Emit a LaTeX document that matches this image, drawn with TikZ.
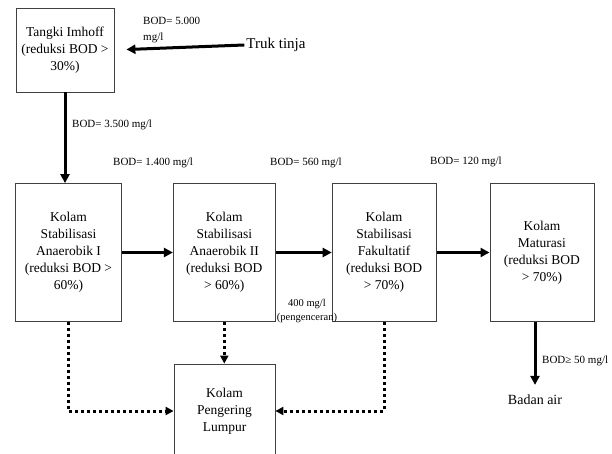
\documentclass[tikz,border=0pt]{standalone}
\usepackage{fontspec}
\setmainfont{Liberation Serif}
\usepackage{xcolor}
\usepackage{tikz}
\usetikzlibrary{arrows.meta, positioning}

\begin{document}
\begin{tikzpicture}[
    x=1pt, y=-1pt,
    pond/.style={rectangle, draw=black!75, line width=0.8pt, align=center, minimum height=138pt, inner sep=2pt, font=\fontsize{13.5}{17}\selectfont},
    bodlabel/.style={inner sep=0pt, align=left, font=\fontsize{11}{16}\selectfont},
    flow/.style={-{Triangle[length=9pt, width=9pt]}, line width=3pt},
    sludge/.style={-{Triangle[length=8pt, width=8pt]}, line width=3pt, dash pattern=on 3pt off 3pt}
]
\useasboundingbox (0,0) rectangle (612,454);

% Tangki Imhoff and inflow
\node[pond, minimum width=98pt, minimum height=84pt] (imhoff) at (65,50) {Tangki Imhoff\\(reduksi BOD >\\30\%)};
\node[font=\fontsize{15}{18}\selectfont, inner sep=2pt] (truk) at (276,45) {Truk tinja};
\node[bodlabel, anchor=north west] (bodin) at (143,16.5) {BOD= 5.000\\mg/l};

% Pond series
\node[pond, minimum width=106pt] (anaer1) at (68.5,252.5) {Kolam\\Stabilisasi\\Anaerobik I\\(reduksi BOD >\\60\%)};
\node[pond, minimum width=102pt, right=51pt of anaer1] (anaer2) {Kolam\\Stabilisasi\\Anaerobik II\\(reduksi BOD\\> 60\%)};
\node[pond, minimum width=104pt, right=56pt of anaer2] (fakultatif) {Kolam\\Stabilisasi\\Fakultatif\\(reduksi BOD\\> 70\%)};
\node[pond, minimum width=104pt, right=53pt of fakultatif] (maturasi) {Kolam\\Maturasi\\(reduksi BOD\\> 70\%)};

% Sludge drying and outlet
\node[pond, minimum width=101pt, minimum height=94pt] (pengering) at (224.5,411) {Kolam\\Pengering\\Lumpur};
\node[font=\fontsize{14}{17}\selectfont, inner sep=2pt] (badan) at (535,400) {Badan air};

% BOD labels
\node[bodlabel, anchor=west] (bod1) at (72,125) {BOD= 3.500 mg/l};
\node[bodlabel, anchor=west] (bod2) at (113,163) {BOD= 1.400 mg/l};
\node[bodlabel, anchor=west] (bod3) at (270,163) {BOD= 560 mg/l};
\node[bodlabel, anchor=west] (bod4) at (430,162) {BOD= 120 mg/l};
\node[bodlabel, align=center, font=\fontsize{10.5}{14}\selectfont] (dilute) at (307,311) {400 mg/l\\(pengenceran)};
\node[bodlabel, anchor=west] (bodout) at (542,361) {BOD≥ 50 mg/l};

% Arrows
\draw[flow, shorten >=12pt] (truk.west) -- (imhoff.east);
\draw[flow] (imhoff.south) -- (imhoff.south |- anaer1.north);
\draw[flow] (anaer1) -- (anaer2);
\draw[flow] (anaer2) -- (fakultatif);
\draw[flow] (fakultatif) -- (maturasi);
\draw[flow, shorten >=8pt] (maturasi.south -| badan.north) -- (badan.north);

% Sludge lines
\draw[sludge] (anaer1.south) |- (pengering.west);
\draw[sludge] (anaer2.south) -- (anaer2.south |- pengering.north);
\draw[sludge] (fakultatif.south) |- (pengering.east);

\end{tikzpicture}
\end{document}
